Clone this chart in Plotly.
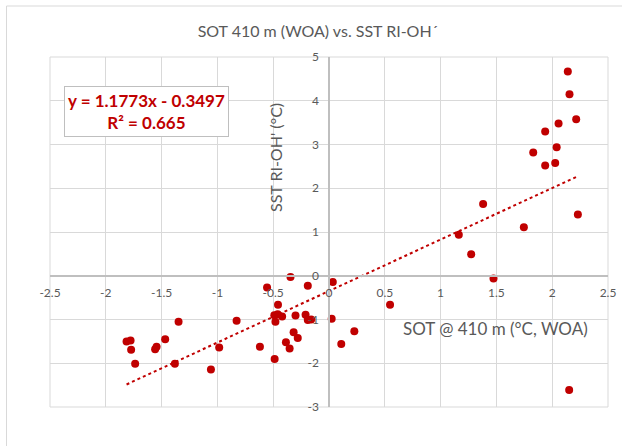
import plotly.graph_objects as go

# Data
sot_410m = [2.14, 2.155, 2.215, 2.057, 1.937, 2.04, 1.83, 1.937, 2.027, 2.23, 1.746, 2.152,
            1.381, 1.163, 1.274, 1.474, 0.547, 0.034, -0.345, -0.19, -0.555, -0.457,
            -0.49, -0.46, -0.42, -0.48, -0.30, -0.21, -0.19, -0.16, 0.024, -0.317, -0.28,
            -0.386, -0.353, -0.619, 0.11, 0.227, -0.487, -1.348, -0.828, -1.814, -1.778,
            -1.773, -1.468, -1.545, -1.558, -1.737, -1.381, -0.984, -1.058]
sst_ri_oh = [4.67, 4.15, 3.58, 3.48, 3.30, 2.94, 2.82, 2.52, 2.58, 1.40, 1.11, -2.61,
             1.64, 0.94, 0.49, -0.06, -0.66, -0.14, -0.03, -0.23, -0.27, -0.66,
             -0.90, -0.88, -0.93, -1.05, -0.91, -0.89, -1.01, -1.00, -0.98, -1.29, -1.42,
             -1.52, -1.66, -1.62, -1.56, -1.27, -1.90, -1.05, -1.03, -1.50, -1.48,
             -1.69, -1.45, -1.62, -1.68, -2.01, -2.01, -1.64, -2.14]

trend_slope = 1.1773
trend_intercept = -0.3497
r_squared = 0.665

x_tick_vals = [-2.5, -2, -1.5, -1, -0.5, 0, 0.5, 1, 1.5, 2, 2.5]
x_tick_text = ["-2.5", "-2", "-1.5", "-1", "-0.5", "0", "0.5", "1", "1.5", "2", "2.5"]
y_tick_vals = [-3, -2, -1, 0, 1, 2, 3, 4, 5]
y_tick_text = ["-3", "-2", "-1", "0", "1", "2", "3", "4", "5"]

RED = "#C00000"
GREY_TXT = "#595959"
GRID = "#d9d9d9"
FONT = "Lato"

x_lo, x_hi = min(sot_410m), max(sot_410m)
trend_x = [x_lo, x_hi]
trend_y = [trend_slope * v + trend_intercept for v in trend_x]

fig = go.Figure()
fig.add_trace(go.Scatter(x=trend_x, y=trend_y, mode="lines",
                         line=dict(color=RED, width=2, dash="dot"),
                         hoverinfo="skip", showlegend=False))
fig.add_trace(go.Scatter(x=sot_410m, y=sst_ri_oh, mode="markers",
                         marker=dict(color=RED, size=8, line=dict(width=0)),
                         showlegend=False))

fig.update_layout(
    width=622, height=446,
    margin=dict(l=50, r=14, t=57, b=39, autoexpand=False),
    paper_bgcolor="white", plot_bgcolor="white",
    font=dict(family=FONT, color=GREY_TXT),
    title=dict(text="SOT 410 m (WOA) vs. SST RI-OH´", x=0.511, xref="container",
               xanchor="center", y=1 - 31 / 446, yref="container", yanchor="middle",
               font=dict(family=FONT, size=16, color=GREY_TXT)),
    xaxis=dict(range=[-2.5, 2.5], tickvals=x_tick_vals, ticktext=x_tick_text,
               showgrid=True, gridcolor=GRID, gridwidth=1, automargin=False,
               zeroline=False, showline=True, linecolor="#bfbfbf", linewidth=1.5,
               anchor="free", position=0.375, ticks="", ticklabelstandoff=6,
               tickfont=dict(family=FONT, size=12, color=GREY_TXT)),
    yaxis=dict(range=[-3, 5], tickvals=y_tick_vals, ticktext=y_tick_text,
               showgrid=True, gridcolor=GRID, gridwidth=1, automargin=False,
               zeroline=False, showline=True, linecolor="#bfbfbf", linewidth=1.5,
               anchor="free", position=0.5, ticks="", ticklabelstandoff=7,
               tickfont=dict(family=FONT, size=12, color=GREY_TXT)),
    shapes=[
        # plot-area frame (edge gridlines)
        dict(type="rect", xref="paper", yref="paper", x0=0, x1=1, y0=0, y1=1,
             line=dict(color=GRID, width=1), fillcolor="rgba(0,0,0,0)", layer="below"),
        # chart-area border (left and top edges visible)
        dict(type="line", xref="paper", yref="paper",
             x0=(6.5 - 50) / 558, x1=(6.5 - 50) / 558, y0=-0.2, y1=(407 - 6) / 350,
             line=dict(color=GRID, width=1)),
        dict(type="line", xref="paper", yref="paper",
             x0=(6.5 - 50) / 558, x1=1.1, y0=(407 - 6) / 350, y1=(407 - 6) / 350,
             line=dict(color=GRID, width=1)),
    ],
    annotations=[
        dict(text="SST RI-OH' (°C)", textangle=-90, xref="paper", yref="paper",
             x=(275 - 50) / 558, y=(407 - 158) / 350, xanchor="center", yanchor="middle",
             showarrow=False, font=dict(family=FONT, size=16, color=GREY_TXT)),
        dict(text="SOT @ 410 m (°C, WOA)", xref="paper", yref="paper",
             x=(495 - 50) / 558, y=(407 - 328) / 350, xanchor="center", yanchor="middle",
             showarrow=False, font=dict(family=FONT, size=17, color=GREY_TXT)),
        dict(text=f"<b>y = {trend_slope}x - {abs(trend_intercept)}<br>R² = {r_squared}</b>",
             xref="paper", yref="paper", x=(146 - 50) / 558, y=(407 - 111.7) / 350,
             xanchor="center", yanchor="middle", showarrow=False, align="center",
             bgcolor="white", bordercolor="#bfbfbf", borderwidth=1, borderpad=3,
             font=dict(family=FONT, size=17, color=RED)),
    ],
)

fig.write_html("out.html", config={"displayModeBar": False},
               post_script="document.body.style.margin='0';document.body.style.overflow='hidden';")
